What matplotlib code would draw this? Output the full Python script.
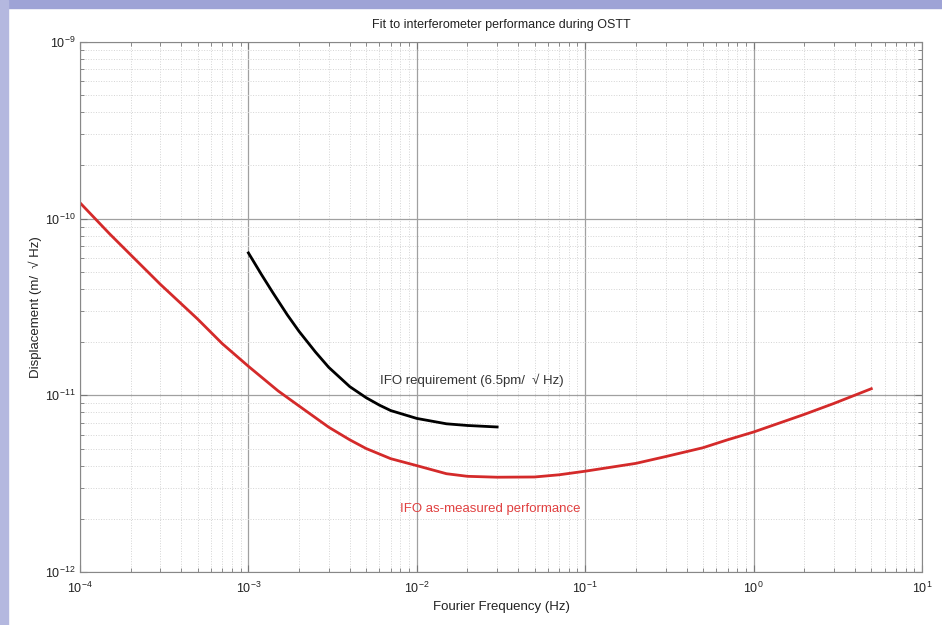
import numpy as np
import matplotlib.pyplot as plt
from matplotlib.patches import Rectangle
from matplotlib.ticker import FixedLocator, NullFormatter

plt.rcParams['font.family'] = ['Liberation Sans', 'DejaVu Sans']
plt.rcParams['mathtext.default'] = 'regular'

# measured performance (red)
freq_meas = [1e-4, 1.5e-4, 2e-4, 3e-4, 5e-4, 7e-4, 1e-3, 1.5e-3, 2e-3, 3e-3, 4e-3,
             5e-3, 7e-3, 1e-2, 1.5e-2, 2e-2, 3e-2, 5e-2, 7e-2, 0.1, 0.2, 0.3, 0.5,
             0.7, 1.0, 2.0, 3.0, 5.0]
disp_meas = [1.23e-10, 8.2e-11, 6.24e-11, 4.25e-11, 2.7e-11, 1.96e-11, 1.46e-11,
             1.06e-11, 8.7e-12, 6.6e-12, 5.6e-12, 5.0e-12, 4.38e-12, 4.0e-12, 3.6e-12,
             3.48e-12, 3.44e-12, 3.45e-12, 3.55e-12, 3.72e-12, 4.12e-12, 4.5e-12,
             5.05e-12, 5.6e-12, 6.2e-12, 7.8e-12, 9.0e-12, 1.09e-11]

# requirement (black)
freq_req = [1.0e-3, 1.2e-3, 1.4e-3, 1.7e-3, 2e-3, 2.5e-3, 3e-3, 4e-3, 5e-3, 6e-3,
            7e-3, 1e-2, 1.5e-2, 2e-2, 3e-2]
disp_req = [6.4e-11, 4.8e-11, 3.8e-11, 2.86e-11, 2.3e-11, 1.76e-11, 1.44e-11,
            1.12e-11, 9.7e-12, 8.8e-12, 8.2e-12, 7.4e-12, 6.9e-12, 6.75e-12, 6.62e-12]

x_decades = [1e-4, 1e-3, 1e-2, 1e-1, 1e0, 1e1]
y_decades = [1e-12, 1e-11, 1e-10, 1e-9]

fig = plt.figure(figsize=(9.42, 6.25), dpi=100, facecolor='white')
# slide background bands at the top and left edge
fig.patches.append(Rectangle((0, 1 - 8 / 625), 1, 8 / 625, transform=fig.transFigure,
                             color='#9ea3d6', zorder=-10))
fig.patches.append(Rectangle((0, 0), 8 / 942, 1, transform=fig.transFigure,
                             color='#b4b8df', zorder=-10))

ax = fig.add_axes([80 / 942, 1 - 572 / 625, 842 / 942, 530 / 625])
ax.set_xscale('log')
ax.set_yscale('log')

ax.plot(freq_meas, disp_meas, color='#d42a2a', lw=2, solid_joinstyle='round')
ax.plot(freq_req, disp_req, color='black', lw=2, solid_joinstyle='round')

ax.text(6.05e-3, 1.21e-11, 'IFO requirement (6.5pm/  \u221a Hz)', fontsize=9.5,
        color='#333333', va='center')
ax.text(7.94e-3, 2.27e-12, 'IFO as-measured performance', fontsize=9.5,
        color='#e04040', va='center')

# decade ticks plus 2..9 minor ticks inside the range
sub = np.arange(2, 10)
ax.set_xticks(x_decades)
ax.set_yticks(y_decades)
ax.xaxis.set_minor_locator(FixedLocator([d * s for d in x_decades[:-1] for s in sub]))
ax.yaxis.set_minor_locator(FixedLocator([d * s for d in y_decades[:-1] for s in sub]))
ax.xaxis.set_minor_formatter(NullFormatter())
ax.yaxis.set_minor_formatter(NullFormatter())
ax.set_xlim(x_decades[0], x_decades[-1])
ax.set_ylim(y_decades[0], y_decades[-1])

ax.grid(which='major', color='#a0a0a0', lw=0.9, ls='-')
ax.grid(which='minor', color='#d4d4d4', lw=0.7, ls=':')
ax.tick_params(which='both', direction='in', top=True, right=True, colors='#777777',
               labelcolor='#222222', labelsize=9)
ax.tick_params(which='major', length=5)
ax.tick_params(which='minor', length=3)
ax.tick_params(axis='x', pad=6)
for s in ax.spines.values():
    s.set_color('#888888')

ax.set_title('Fit to interferometer performance during OSTT', fontsize=9, pad=10,
             color='#222222')
ax.set_xlabel('Fourier Frequency (Hz)', fontsize=9.5, color='#222222', labelpad=4)
ax.set_ylabel('Displacement (m/  \u221a Hz)', fontsize=9.5, color='#222222', labelpad=2)

fig.savefig('out.png', dpi=100, facecolor=fig.get_facecolor())
